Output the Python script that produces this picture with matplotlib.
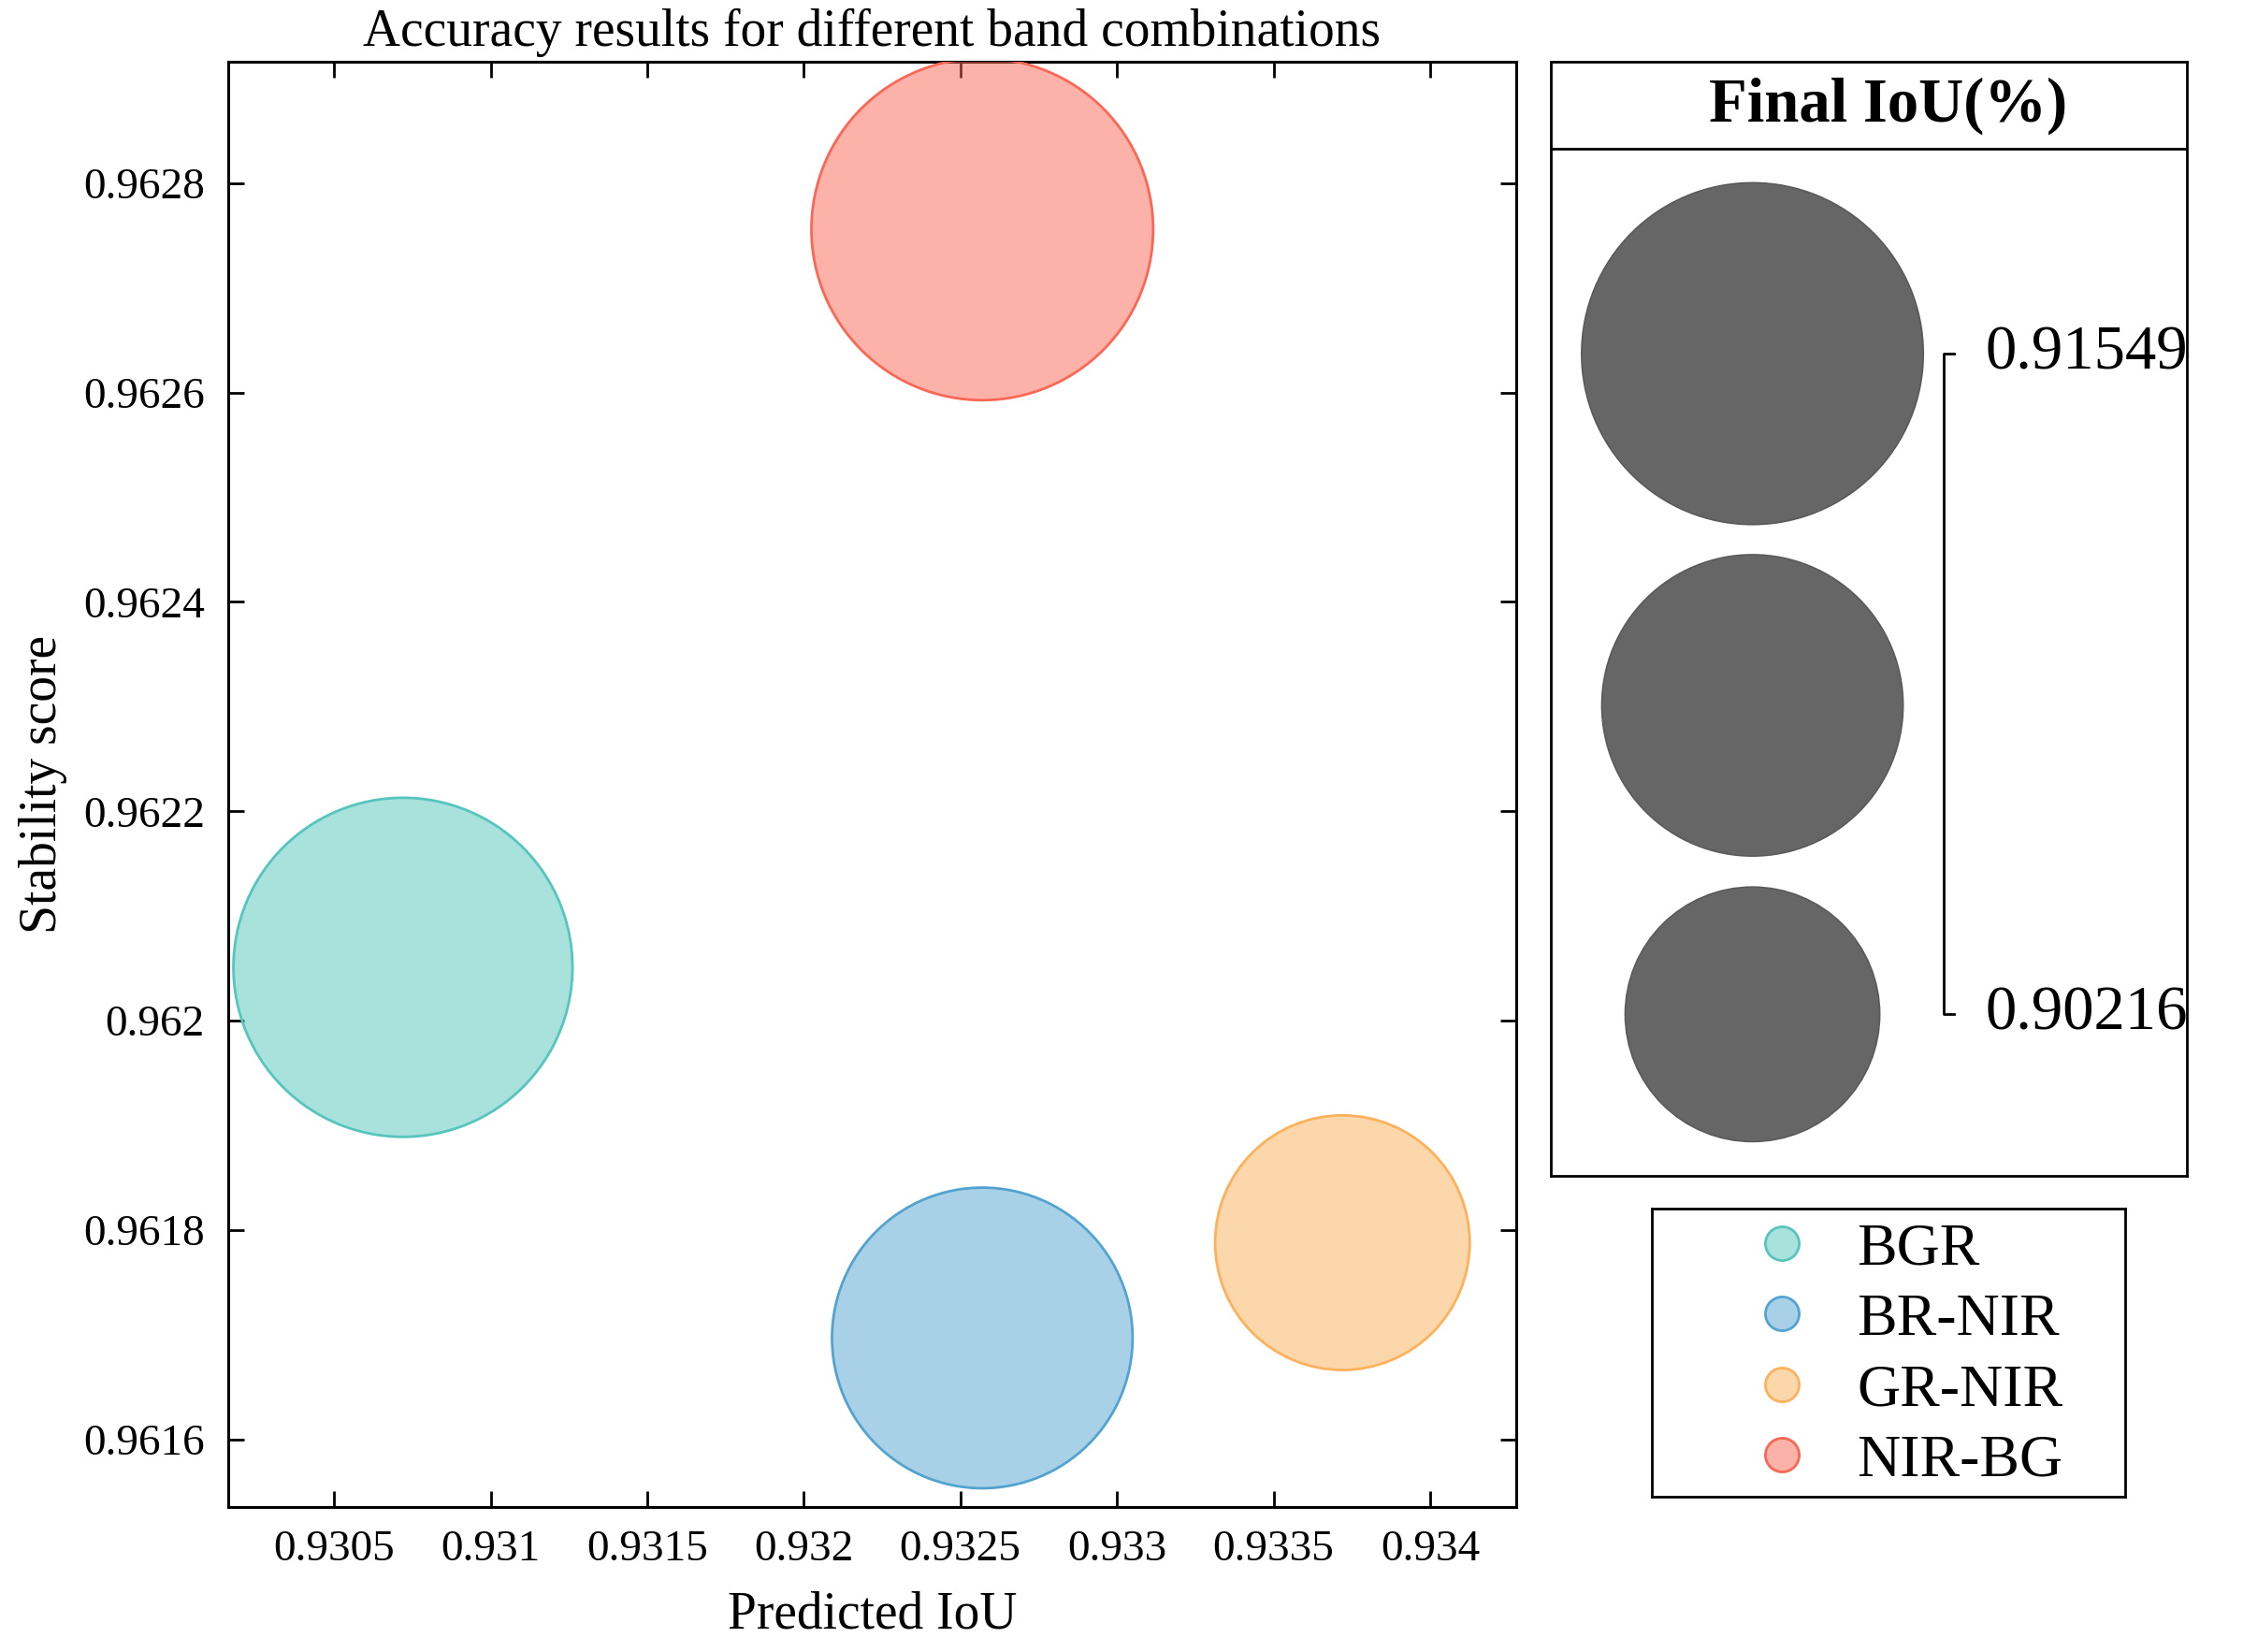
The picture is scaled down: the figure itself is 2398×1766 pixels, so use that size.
import numpy as np
import matplotlib
matplotlib.use("Agg")
import matplotlib.pyplot as plt
from matplotlib.lines import Line2D

plt.rcParams['font.family'] = ['Liberation Serif', 'DejaVu Serif']

# ---- data ----
combos = ['BGR', 'BR-NIR', 'GR-NIR', 'NIR-BG']
predicted_iou = [0.93072, 0.93257, 0.93372, 0.93257]
stability = [0.962051, 0.961697, 0.961788, 0.962756]
final_iou = [0.91502, 0.90871, 0.90216, 0.91549]
colors = ['#55c5bd', '#53a3d1', '#fdb15b', '#fb6755']
xticks = [0.9305, 0.931, 0.9315, 0.932, 0.9325, 0.933, 0.9335, 0.934]
xticklabels = ['0.9305', '0.931', '0.9315', '0.932', '0.9325', '0.933', '0.9335', '0.934']
yticks = [0.9616, 0.9618, 0.962, 0.9622, 0.9624, 0.9626, 0.9628]
yticklabels = ['0.9616', '0.9618', '0.962', '0.9622', '0.9624', '0.9626', '0.9628']

W, H, DPI = 2398, 1766, 200
fig = plt.figure(figsize=(W / DPI, H / DPI), dpi=DPI)

vmin, vmax = min(final_iou), max(final_iou)
SMIN, SMAX = 9600.0, 17300.0


def size_of(v):
    return SMIN + (np.asarray(v) - vmin) / (vmax - vmin) * (SMAX - SMIN)


# ---- main axes ----
ax = fig.add_axes([244 / W, 1 - 1611 / H, (1621 - 244) / W, (1611 - 66) / H])
for i, name in enumerate(combos):
    ax.scatter([predicted_iou[i]], [stability[i]], s=size_of(final_iou[i]),
               facecolor=colors[i], alpha=0.5, edgecolor='none', zorder=3)
    ax.scatter([predicted_iou[i]], [stability[i]], s=size_of(final_iou[i]),
               facecolor='none', edgecolor=colors[i], linewidth=1.0, zorder=4)

ax.set_xlim(0.930162, 0.934275)
ax.set_ylim(0.9615355, 0.962916)
ax.set_xticks(xticks)
ax.set_xticklabels(xticklabels)
ax.set_yticks(yticks)
ax.set_yticklabels(yticklabels)
ax.tick_params(direction='in', length=6, width=1.0, top=True, right=True,
               labelsize=17, pad=9)
for sp in ax.spines.values():
    sp.set_linewidth(1.1)
ax.set_xlabel('Predicted IoU', fontsize=20, labelpad=8)
ax.set_ylabel('Stability score', fontsize=20, labelpad=6)
ax.set_title('Accuracy results for different band combinations', fontsize=20, pad=6)

# ---- size legend panel ----
ax2 = fig.add_axes([1658 / W, 1 - 1257 / H, (2338 - 1658) / W, (1257 - 66) / H])
ax2.set_xlim(0, 1)
ax2.set_ylim(0, 1)
ax2.set_xticks([])
ax2.set_yticks([])
for sp in ax2.spines.values():
    sp.set_linewidth(1.0)
ax2.axhline(0.9217, color='black', linewidth=1.0)
ax2.text(0.53, 0.960, 'Final IoU(%)', fontsize=24, fontweight='bold',
         ha='center', va='center', transform=ax2.transAxes)
leg_vals = np.linspace(vmax, vmin, 3)
leg_y = [0.738, 0.4223, 0.145]
ax2.scatter([0.317] * 3, leg_y, s=size_of(leg_vals), facecolor='#666666',
            edgecolor='#5a5a5a', linewidth=0.6, transform=ax2.transAxes, zorder=3)
ax2.plot([0.634, 0.618, 0.618, 0.634], [leg_y[0], leg_y[0], leg_y[2], leg_y[2]],
         color='black', linewidth=1.0, transform=ax2.transAxes)
ax2.text(0.683, leg_y[0], f'{vmax:.5f}', fontsize=24, ha='left', va='center',
         transform=ax2.transAxes)
ax2.text(0.683, leg_y[2], f'{vmin:.5f}', fontsize=24, ha='left', va='center',
         transform=ax2.transAxes)

# ---- colour legend ----
ax3 = fig.add_axes([1766 / W, 1 - 1600 / H, (2272 - 1766) / W, (1600 - 1292) / H])
ax3.set_xticks([])
ax3.set_yticks([])
for sp in ax3.spines.values():
    sp.set_linewidth(1.0)
handles = [Line2D([], [], marker='o', linestyle='', markersize=13,
                  markerfacecolor=matplotlib.colors.to_rgba(c, 0.5),
                  markeredgecolor=c, markeredgewidth=1.0) for c in colors]
ax3.legend(handles, combos, loc='center', bbox_to_anchor=(0.54, 0.49),
           frameon=False, fontsize=23, handlelength=1.0, handletextpad=0.75,
           labelspacing=0.26, borderpad=0.2)

fig.savefig('out.png', dpi=DPI)
